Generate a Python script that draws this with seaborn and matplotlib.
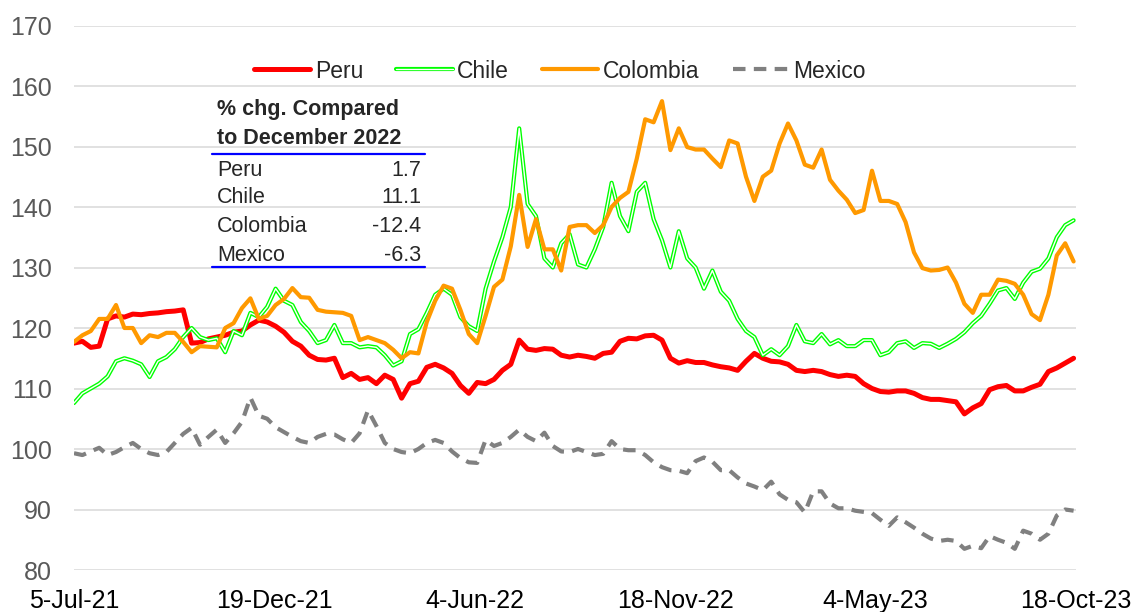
import matplotlib
matplotlib.use('Agg')
import matplotlib.pyplot as plt
import matplotlib.dates as mdates
from matplotlib.lines import Line2D
import matplotlib.patheffects as pe
import seaborn as sns
import pandas as pd
import numpy as np

sns.set_theme(style="white")
plt.rcParams['font.family'] = ['Liberation Sans', 'DejaVu Sans']

# weekly readings, 5-Jul-21 onward
dates = pd.date_range('2021-07-05', periods=120, freq='7D')

peru = [117.5, 117.8, 116.8, 117.0, 121.5, 122.0, 121.8, 122.3, 122.2, 122.4,
        122.5, 122.7, 122.8, 123.0, 117.5, 117.6, 118.2, 118.5, 118.8, 119.3,
        119.5, 120.5, 121.3, 121.0, 120.3, 119.3, 117.8, 117.0, 115.5, 114.8,
        114.7, 115.0, 111.8, 112.5, 111.5, 111.8, 110.8, 112.2, 111.5, 108.4,
        110.8, 111.2, 113.5, 114.0, 113.4, 112.5, 110.5, 109.2, 111.0, 110.8,
        111.5, 113.0, 114.0, 118.0, 116.5, 116.3, 116.6, 116.5, 115.5, 115.2,
        115.5, 115.3, 115.0, 115.8, 116.0, 117.8, 118.3, 118.2, 118.7, 118.8,
        118.0, 115.0, 114.2, 114.6, 114.3, 114.3, 113.9, 113.6, 113.4, 113.0,
        114.5, 115.8, 115.0, 114.5, 114.4, 114.0, 113.0, 112.8, 113.0, 112.8,
        112.3, 112.0, 112.2, 112.0, 110.8, 110.0, 109.5, 109.4, 109.6, 109.6,
        109.2, 108.5, 108.2, 108.2, 108.0, 107.8, 105.8, 106.8, 107.5, 109.8,
        110.3, 110.5, 109.6, 109.6, 110.2, 110.7, 112.8, 113.4, 114.2, 115.0]

chile = [107.6, 109.2, 110.0, 110.8, 112.0, 114.5, 115.0, 114.6, 114.0, 111.9,
         114.5, 115.2, 116.5, 118.5, 120.0, 118.5, 118.0, 118.3, 116.0, 119.5,
         118.8, 122.5, 121.8, 123.5, 126.5, 124.5, 123.8, 121.0, 119.5, 117.5,
         118.0, 120.5, 117.5, 117.5, 116.8, 117.0, 116.8, 115.5, 113.8, 114.5,
         119.0, 119.8, 122.5, 125.5, 126.5, 125.5, 121.8, 120.3, 119.5, 126.5,
         131.0, 135.0, 140.0, 153.0, 140.5, 138.5, 131.5, 130.0, 134.0, 135.5,
         130.5, 130.0, 133.0, 136.7, 144.0, 138.5, 136.0, 142.5, 144.0, 138.0,
         134.5, 130.0, 136.0, 131.5, 130.0, 126.5, 129.5, 126.0, 124.5, 121.5,
         119.5, 118.5, 115.5, 116.5, 115.5, 117.0, 120.5, 117.8, 117.5, 119.0,
         117.3, 118.0, 117.0, 117.0, 118.0, 118.0, 115.5, 116.0, 117.5, 117.8,
         116.7, 117.5, 117.4, 116.7, 117.4, 118.2, 119.3, 120.8, 122.0, 124.0,
         126.2, 126.6, 124.8, 127.5, 129.3, 129.8, 131.5, 135.0, 137.0, 137.8]

colombia = [117.7, 118.8, 119.5, 121.5, 121.5, 123.8, 120.0, 120.0, 117.5, 118.8,
            118.5, 119.2, 119.2, 117.7, 116.0, 117.0, 116.9, 116.8, 120.0, 120.8,
            123.3, 124.9, 121.5, 122.0, 123.8, 124.8, 126.6, 125.1, 125.0, 123.0,
            122.7, 122.6, 122.5, 122.0, 118.0, 118.5, 118.0, 117.5, 116.4, 115.0,
            116.0, 115.8, 121.0, 124.5, 127.0, 126.5, 123.0, 119.0, 117.5, 122.0,
            126.8, 128.0, 133.5, 142.0, 133.4, 138.0, 133.0, 133.0, 129.5, 136.7,
            137.0, 137.0, 135.7, 137.0, 140.0, 141.5, 142.5, 148.0, 154.5, 154.0,
            157.5, 149.4, 153.0, 149.9, 149.5, 149.5, 148.0, 146.6, 151.0, 150.5,
            145.0, 141.0, 145.0, 146.0, 150.5, 153.8, 151.0, 147.0, 146.5, 149.5,
            144.5, 142.7, 141.2, 139.0, 139.5, 146.0, 141.0, 141.0, 140.5, 137.5,
            132.5, 129.9, 129.5, 129.6, 130.0, 127.5, 124.0, 122.5, 125.5, 125.5,
            128.0, 127.8, 127.3, 125.5, 122.3, 121.3, 125.5, 132.0, 134.0, 131.0]

mexico = [99.3, 99.0, 99.6, 100.2, 99.0, 99.5, 100.3, 101.0, 100.0, 99.3,
          99.0, 99.5, 101.0, 102.5, 103.5, 100.7, 102.0, 103.2, 101.0, 102.6,
          104.5, 108.5, 105.5, 105.0, 103.6, 102.8, 102.0, 101.3, 101.0, 102.0,
          102.5, 102.4, 101.6, 101.0, 102.6, 106.4, 103.8, 101.0, 100.0, 99.5,
          99.3, 100.0, 101.0, 101.5, 101.0, 99.6, 98.5, 97.8, 97.7, 101.5,
          100.5, 101.0, 102.0, 103.2, 102.0, 101.3, 102.7, 100.5, 99.6, 99.5,
          100.0, 99.5, 99.0, 99.2, 101.3, 100.0, 99.8, 99.8, 99.0, 97.8,
          97.0, 96.5, 96.4, 96.0, 98.0, 98.6, 97.9, 96.5, 96.5, 95.3,
          94.3, 93.8, 93.2, 94.6, 92.5, 91.6, 91.2, 89.5, 93.0, 93.0,
          91.0, 90.2, 90.2, 89.8, 89.6, 89.4, 88.3, 87.3, 88.7, 87.9,
          87.0, 86.0, 85.2, 84.8, 85.0, 84.8, 83.5, 84.0, 83.6, 85.6,
          85.0, 84.5, 83.5, 86.5, 86.0, 85.0, 86.0, 89.0, 90.0, 89.8]

tick_dates = pd.to_datetime(['2021-07-05', '2021-12-19', '2022-06-04',
                             '2022-11-18', '2023-05-04', '2023-10-18'])
tick_labels = ['5-Jul-21', '19-Dec-21', '4-Jun-22', '18-Nov-22', '4-May-23', '18-Oct-23']

table_names = ['Peru', 'Chile', 'Colombia', 'Mexico']
table_values = ['1.7', '11.1', '-12.4', '-6.3']

RED = '#ff0000'
GREEN = '#00ff00'
ORANGE = '#ff9900'
GREY = '#808080'

W, H = 1134, 612
fig = plt.figure(figsize=(W / 100, H / 100), dpi=100)
ax = fig.add_axes([74 / W, 1 - 570 / H, (1076 - 74) / W, (570 - 25.5) / H])

chile_fx = [pe.Stroke(linewidth=3.0, foreground=GREEN), pe.Normal()]

sns.lineplot(x=dates, y=peru, ax=ax, color=RED, lw=3.6)
sns.lineplot(x=dates, y=chile, ax=ax, color='white', lw=1.0, path_effects=chile_fx)
sns.lineplot(x=dates, y=colombia, ax=ax, color=ORANGE, lw=3.0)
sns.lineplot(x=dates, y=mexico, ax=ax, color=GREY, lw=3.0, dashes=False)
ax.lines[-1].set_dashes((3, 2))

ax.set_ylim(80, 170)
ax.set_yticks(np.arange(80, 171, 10))
ax.set_xlim(pd.Timestamp('2021-07-05'), pd.Timestamp('2023-10-18'))
ax.set_xticks(tick_dates)
ax.set_xticklabels(tick_labels)
ax.yaxis.grid(True, color='#d9d9d9', lw=1.1)
ax.xaxis.grid(False)
ax.set_axisbelow(True)
for s in ax.spines.values():
    s.set_visible(False)
ax.tick_params(axis='y', labelsize=18, labelcolor='#595959', length=0, pad=16)
ax.tick_params(axis='x', labelsize=18, labelcolor='black', length=0, pad=14)
ax.set_xlabel('')
ax.set_ylabel('')

handles = [
    Line2D([], [], color=RED, lw=3.6),
    Line2D([], [], color='white', lw=1.0, path_effects=chile_fx),
    Line2D([], [], color=ORANGE, lw=3.0),
    Line2D([], [], color=GREY, lw=3.0, dashes=(3, 2)),
]
fig.legend(handles, table_names, loc='center', bbox_to_anchor=(560 / W, 1 - 71 / H),
           ncol=4, frameon=False, fontsize=16.5, handlelength=2.45,
           handletextpad=0.2, columnspacing=1.45)

# summary table
fig.text(217 / W, 1 - 109 / H, '% chg. Compared', fontsize=15.5, fontweight='bold', va='center')
fig.text(217 / W, 1 - 138 / H, 'to December 2022', fontsize=15.5, fontweight='bold', va='center')
fig.add_artist(Line2D([212 / W, 425 / W], [1 - 153.5 / H] * 2, color='#0000ff', lw=1.6))
row_y = [170, 197.5, 226, 255]
for name, val, yy in zip(table_names, table_values, row_y):
    fig.text(217 / W, 1 - yy / H, name, fontsize=15.5, va='center')
    fig.text(421 / W, 1 - yy / H, val, fontsize=15.5, va='center', ha='right')
fig.add_artist(Line2D([212 / W, 425 / W], [1 - 267 / H] * 2, color='#0000ff', lw=1.6))

fig.savefig('out.png', dpi=100)
